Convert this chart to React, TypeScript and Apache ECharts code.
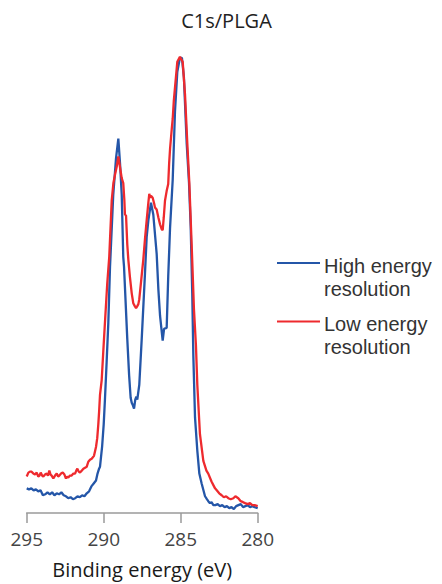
import React, { useEffect, useRef } from "react";
import * as echarts from "echarts";

const titleText = "C1s/PLGA";
const xAxisName = "Binding energy (eV)";
const seriesNames = ["High energy\nresolution", "Low energy\nresolution"];

const highEnergy = [295.0, 294.85, 294.7, 294.55, 294.4, 294.25, 294.1, 293.95, 293.8, 293.65, 293.5, 293.35, 293.2, 293.05, 292.9, 292.75, 292.6, 292.45, 292.3, 292.15, 292.0, 291.85, 291.7, 291.55, 291.4, 291.25, 291.1, 290.95, 290.8, 290.65, 290.5, 290.4, 290.3, 290.24, 290.1, 290.0, 289.92, 289.81, 289.7, 289.59, 289.38, 289.2, 289.05, 288.94, 288.83, 288.73, 288.68, 288.47, 288.35, 288.25, 288.18, 288.12, 288.03, 287.95, 287.88, 287.82, 287.69, 287.53, 287.32, 287.21, 287.1, 286.93, 286.78, 286.56, 286.45, 286.34, 286.17, 286.08, 285.91, 285.81, 285.69, 285.52, 285.37, 285.22, 285.05, 284.92, 284.79, 284.61, 284.46, 284.35, 284.25, 284.18, 284.07, 283.92, 283.79, 283.64, 283.42, 283.3, 283.21, 283.1, 283.0, 282.88, 282.75, 282.6, 282.45, 282.3, 282.15, 282.0, 281.85, 281.7, 281.55, 281.4, 281.25, 281.1, 280.95, 280.8, 280.65, 280.5, 280.35, 280.2, 280.0];
const highIntensity = [25, 24, 25, 23, 24, 22, 23, 18, 19, 21, 19, 21, 18, 20, 19, 21, 18, 17, 15, 16, 14, 15, 17, 16, 18, 17, 20, 22, 27, 30, 33, 40, 45, 47, 68, 90, 115, 153, 193, 250, 323, 360, 380, 355, 323, 260, 250, 177, 140, 117, 112, 110, 106, 115, 118, 115, 130, 177, 243, 280, 297, 315, 303, 263, 227, 200, 175, 187, 188, 240, 290, 338, 408, 448, 462, 462, 442, 375, 335, 290, 223, 160, 97, 63, 40, 30, 17, 14, 12, 10, 11, 8, 8, 9, 7, 8, 6, 7, 5, 6, 4, 7, 8, 9, 6, 7, 8, 6, 7, 6, 5];

const lowEnergy = [295.0, 294.89, 294.79, 294.68, 294.57, 294.46, 294.35, 294.25, 294.17, 294.09, 294.0, 293.92, 293.81, 293.7, 293.62, 293.53, 293.45, 293.38, 293.27, 293.16, 293.05, 292.96, 292.88, 292.77, 292.66, 292.55, 292.45, 292.38, 292.3, 292.19, 292.08, 291.97, 291.86, 291.78, 291.71, 291.62, 291.54, 291.43, 291.32, 291.21, 291.1, 291.0, 290.89, 290.78, 290.63, 290.5, 290.42, 290.35, 290.29, 290.24, 290.13, 290.03, 289.92, 289.77, 289.64, 289.48, 289.37, 289.27, 289.15, 289.05, 288.95, 288.83, 288.73, 288.66, 288.62, 288.55, 288.47, 288.4, 288.3, 288.18, 288.08, 287.98, 287.9, 287.82, 287.75, 287.69, 287.56, 287.43, 287.32, 287.21, 287.1, 287.04, 286.98, 286.93, 286.82, 286.72, 286.67, 286.56, 286.52, 286.45, 286.34, 286.23, 286.17, 286.1, 286.02, 285.91, 285.81, 285.75, 285.69, 285.58, 285.52, 285.45, 285.37, 285.22, 285.05, 284.87, 284.72, 284.57, 284.44, 284.29, 284.14, 284.01, 283.92, 283.75, 283.53, 283.33, 283.21, 283.0, 282.77, 282.66, 282.5, 282.34, 282.2, 282.05, 281.91, 281.75, 281.58, 281.45, 281.26, 281.1, 280.95, 280.82, 280.65, 280.5, 280.35, 280.2, 280.0];
const lowIntensity = [37, 41, 42, 42, 40, 39, 41, 37, 38, 41, 38, 37, 39, 40, 38, 43, 39, 38, 35, 38, 40, 37, 38, 40, 41, 39, 35, 37, 36, 38, 38, 40, 40, 43, 45, 42, 41, 43, 45, 46, 47, 52, 54, 55, 58, 67, 76, 90, 105, 120, 135, 163, 193, 233, 260, 317, 335, 343, 352, 362, 352, 340, 335, 318, 303, 302, 273, 257, 240, 223, 213, 210, 208, 210, 212, 217, 237, 257, 278, 297, 315, 324, 320, 322, 320, 314, 310, 308, 305, 300, 293, 288, 287, 300, 317, 327, 334, 355, 370, 390, 400, 418, 432, 458, 463, 458, 425, 375, 335, 273, 207, 170, 130, 80, 53, 43, 40, 32, 25, 23, 20, 18, 16, 17, 15, 14, 15, 17, 15, 12, 11, 10, 9, 10, 8, 8, 7];

const seriesColors = ["#2456a8", "#ee2a2e"];
const FONT = "'Open Sans', 'Noto Sans', sans-serif";
const LEGEND_FONT = "'Liberation Sans', Arial, sans-serif";

export default function App() {
  const ref = useRef<HTMLDivElement>(null);
  useEffect(() => {
    document.body.style.margin = "0";
    const chart = echarts.init(ref.current!, null, { renderer: "svg" });
    const high = highEnergy.map((e, i) => [e, highIntensity[i]]);
    const low = lowEnergy.map((e, i) => [e, lowIntensity[i]]);
    const legendItems: any[] = [];
    const legendY = [263, 321.5];
    const lineH = 22.8;
    seriesNames.forEach((name, i) => {
      legendItems.push({
        type: "line",
        shape: { x1: 277, y1: legendY[i], x2: 320, y2: legendY[i] },
        style: { stroke: seriesColors[i], lineWidth: 2 },
      });
      legendItems.push({
        type: "text",
        x: 324,
        y: legendY[i] + 3.0 - lineH / 2,
        style: {
          text: name,
          font: `20px ${LEGEND_FONT}`,
          lineHeight: lineH,
          fill: "#333",
          align: "left",
          verticalAlign: "top",
        },
      });
    });
    chart.setOption({
      animation: false,
      title: {
        text: titleText,
        left: 226.5,
        top: 10,
        padding: 0,
        textAlign: "center",
        textStyle: { fontFamily: FONT, fontSize: 20, fontWeight: "normal", color: "#222" },
      },
      grid: { left: 26.7, right: 184.3, top: 50, bottom: 64 },
      xAxis: {
        type: "value",
        min: 280,
        max: 295,
        interval: 5,
        inverse: true,
        name: xAxisName,
        nameLocation: "middle",
        nameGap: 46,
        nameTextStyle: { fontFamily: FONT, fontSize: 20, color: "#1a1a1a", fontWeight: 500 },
        axisLine: { lineStyle: { color: "#9a9a9a", width: 1.5 } },
        axisTick: { length: 10, lineStyle: { color: "#9a9a9a", width: 1.5 } },
        splitLine: { show: false },
        axisLabel: { fontFamily: FONT, fontSize: 19, color: "#444", margin: 16 },
      },
      yAxis: { type: "value", min: 0, max: 470, show: false },
      graphic: legendItems,
      series: [
        {
          name: seriesNames[0],
          type: "line",
          data: high,
          showSymbol: false,
          lineStyle: { color: seriesColors[0], width: 2.3 },
          itemStyle: { color: seriesColors[0] },
        },
        {
          name: seriesNames[1],
          type: "line",
          data: low,
          showSymbol: false,
          lineStyle: { color: seriesColors[1], width: 2.3 },
          itemStyle: { color: seriesColors[1] },
        },
      ],
    });
    return () => chart.dispose();
  }, []);
  return <div ref={ref} style={{ position: "absolute", left: 0, top: 0, width: 442, height: 584 }} />;
}
